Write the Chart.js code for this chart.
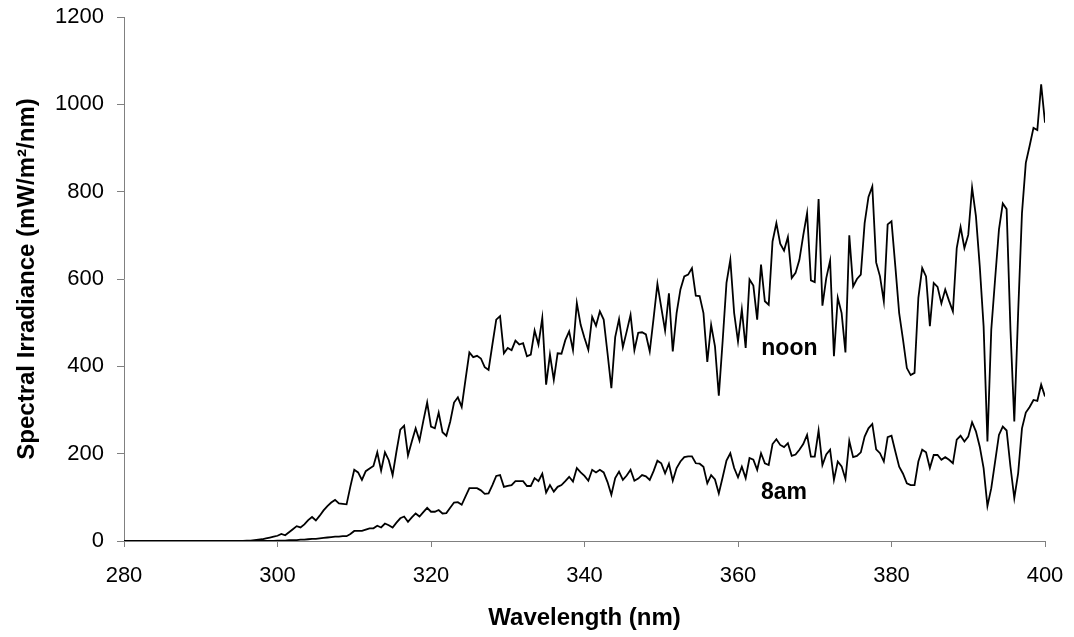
<!DOCTYPE html>
<html>
<head>
<meta charset="utf-8">
<script src="https://cdn.jsdelivr.net/npm/chart.js@4"></script>
<style>
  html, body { margin: 0; padding: 0; background: #fff; }
  #wrap { width: 1074px; height: 637px; position: relative; }
</style>
</head>
<body>
<div id="wrap"><canvas id="chart"></canvas></div>
<script>
// wavelength grid (nm)
const wavelengths = [
    280, 285, 290,
    295, 295.5, 296, 296.5, 297, 297.5, 298, 298.5, 299, 299.5,
    300, 300.5, 301, 301.5, 302, 302.5, 303, 303.5, 304, 304.5,
    305, 305.5, 306, 306.5, 307, 307.5, 308, 308.5, 309, 309.5,
    310, 310.5, 311, 311.5, 312, 312.5, 313, 313.5, 314, 314.5,
    315, 315.5, 316, 316.5, 317, 317.5, 318, 318.5, 319, 319.5,
    320, 320.5, 321, 321.5, 322, 322.5, 323, 323.5, 324, 324.5,
    325, 325.5, 326, 326.5, 327, 327.5, 328, 328.5, 329, 329.5,
    330, 330.5, 331, 331.5, 332, 332.5, 333, 333.5, 334, 334.5,
    335, 335.5, 336, 336.5, 337, 337.5, 338, 338.5, 339, 339.5,
    340, 340.5, 341, 341.5, 342, 342.5, 343, 343.5, 344, 344.5,
    345, 345.5, 346, 346.5, 347, 347.5, 348, 348.5, 349, 349.5,
    350, 350.5, 351, 351.5, 352, 352.5, 353, 353.5, 354, 354.5,
    355, 355.5, 356, 356.5, 357, 357.5, 358, 358.5, 359, 359.5,
    360, 360.5, 361, 361.5, 362, 362.5, 363, 363.5, 364, 364.5,
    365, 365.5, 366, 366.5, 367, 367.5, 368, 368.5, 369, 369.5,
    370, 370.5, 371, 371.5, 372, 372.5, 373, 373.5, 374, 374.5,
    375, 375.5, 376, 376.5, 377, 377.5, 378, 378.5, 379, 379.5,
    380, 380.5, 381, 381.5, 382, 382.5, 383, 383.5, 384, 384.5,
    385, 385.5, 386, 386.5, 387, 387.5, 388, 388.5, 389, 389.5,
    390, 390.5, 391, 391.5, 392, 392.5, 393, 393.5, 394, 394.5,
    395, 395.5, 396, 396.5, 397, 397.5, 398, 398.5, 399, 399.5,
    400
];

// spectral irradiance at noon (mW/m2/nm)
const noon = [
    0, 0, 0,
    0, 0, 1, 1, 2, 3, 4, 6, 8, 10,
    12, 16, 13, 20, 27, 34, 31, 38, 48, 55,
    47, 58, 70, 80, 88, 94, 86, 85, 84, 125,
    163, 157, 140, 160, 166, 172, 203, 161, 203, 185,
    151, 205, 255, 264, 196, 228, 258, 230, 275, 317,
    262, 258, 294, 249, 241, 273, 317, 329, 307, 370,
    432, 421, 424, 418, 398, 392, 450, 507, 515, 430,
    442, 437, 459, 450, 453, 423, 427, 482, 450, 511,
    358, 427, 369, 430, 429, 460, 480, 437, 545, 495,
    465, 438, 513, 493, 526, 507, 430, 350, 467, 508,
    444, 480, 518, 437, 477, 478, 473, 434, 510, 589,
    535, 482, 567, 434, 522, 576, 606, 610, 625, 562,
    561, 522, 410, 495, 446, 333, 458, 591, 644, 522,
    457, 530, 442, 599, 585, 507, 633, 549, 541, 686,
    728, 681, 665, 696, 602, 614, 644, 700, 751, 597,
    593, 783, 539, 602, 642, 423, 557, 522, 432, 700,
    583, 600, 610, 728, 788, 812, 638, 606, 549, 725,
    732, 629, 522, 461, 396, 380, 385, 557, 625, 606,
    492, 591, 582, 544, 576, 550, 526, 671, 719, 671,
    701, 809, 744, 629, 492, 228, 484, 600, 713, 773,
    760, 484, 274, 522, 751, 866, 905, 946, 941, 1046,
    958
];

// spectral irradiance at 8am (mW/m2/nm)
const am8 = [
    0, 0, 0,
    0, 0, 0, 0, 0, 0, 0, 0, 0, 0,
    1, 1, 1, 2, 2, 2, 3, 3, 4, 5,
    5, 6, 7, 8, 9, 10, 10, 11, 11, 16,
    23, 23, 23, 26, 29, 29, 35, 31, 40, 36,
    31, 42, 52, 56, 44, 54, 63, 56, 66, 76,
    67, 67, 71, 63, 64, 76, 88, 89, 83, 102,
    121, 121, 121, 116, 108, 109, 128, 149, 151, 124,
    126, 128, 137, 137, 137, 126, 126, 144, 137, 154,
    111, 128, 113, 124, 128, 137, 147, 136, 167, 157,
    149, 138, 163, 157, 163, 157, 135, 106, 144, 159,
    140, 150, 163, 138, 143, 151, 148, 140, 160, 184,
    178, 155, 177, 138, 167, 182, 192, 194, 194, 178,
    177, 170, 132, 151, 141, 109, 146, 184, 201, 167,
    146, 170, 144, 190, 186, 163, 201, 178, 174, 222,
    233, 220, 215, 224, 195, 198, 209, 222, 243, 193,
    193, 253, 174, 198, 209, 140, 182, 171, 142, 229,
    192, 195, 203, 239, 258, 268, 210, 201, 182, 238,
    241, 205, 170, 154, 132, 128, 128, 182, 209, 203,
    167, 197, 197, 186, 192, 186, 178, 232, 241, 228,
    239, 272, 251, 216, 167, 80, 121, 182, 243, 262,
    253, 170, 98, 155, 258, 294, 307, 323, 321, 358,
    331
];

const xTicks = [280, 300, 320, 340, 360, 380, 400];
const yTicks = [0, 200, 400, 600, 800, 1000, 1200];

// series labels placed in data units
const seriesLabels = [
    { text: 'noon', x: 366.7, y: 440 },
    { text: '8am', x: 366.0, y: 111 }
];

const FONT = "'Liberation Sans', Arial, Helvetica, sans-serif";
const AXIS_GRAY = '#808080';

const toPoints = (vals) => wavelengths.map((w, i) => ({ x: w, y: vals[i] }));

const seriesLabelPlugin = {
    id: 'seriesLabels',
    afterDatasetsDraw(chart) {
        const { ctx, scales } = chart;
        ctx.save();
        ctx.font = `bold 23px ${FONT}`;
        ctx.fillStyle = '#000';
        ctx.textAlign = 'center';
        ctx.textBaseline = 'middle';
        seriesLabels.forEach(l => {
            ctx.fillText(l.text, scales.x.getPixelForValue(l.x), scales.y.getPixelForValue(l.y));
        });
        ctx.restore();
    }
};

const noPadding = (s) => { s.paddingTop = 0; s.paddingBottom = 0; s.paddingLeft = 0; s.paddingRight = 0; };

const lineStyle = {
    borderColor: '#000',
    borderWidth: 1.8,
    pointRadius: 0,
    pointHoverRadius: 0,
    tension: 0,
    fill: false
};

new Chart(document.getElementById('chart'), {
    type: 'line',
    data: {
        datasets: [
            { label: 'noon', data: toPoints(noon), ...lineStyle },
            { label: '8am', data: toPoints(am8), ...lineStyle }
        ]
    },
    options: {
        responsive: true,
        maintainAspectRatio: false,
        animation: false,
        events: [],
        layout: { padding: { top: 17, right: 29, left: 0, bottom: 0 } },
        plugins: {
            legend: { display: false },
            tooltip: { enabled: false }
        },
        scales: {
            x: {
                type: 'linear',
                min: 280,
                max: 400,
                afterBuildTicks: (s) => { s.ticks = xTicks.map(v => ({ value: v })); },
                afterFit: (s) => { s.height = 96; noPadding(s); },
                border: { display: true, color: AXIS_GRAY, width: 1 },
                grid: { display: true, drawOnChartArea: false, drawTicks: true, tickLength: 6, color: AXIS_GRAY },
                ticks: { color: '#000', padding: 16, maxRotation: 0, callback: (v) => String(v), font: { family: FONT, size: 22 } },
                title: {
                    display: true,
                    text: 'Wavelength (nm)',
                    color: '#000',
                    font: { family: FONT, size: 24, weight: 'bold' },
                    padding: { top: 0, bottom: 4 }
                }
            },
            y: {
                min: 0,
                max: 1200,
                afterBuildTicks: (s) => { s.ticks = yTicks.map(v => ({ value: v })); },
                afterFit: (s) => { s.width = 124; noPadding(s); },
                border: { display: true, color: AXIS_GRAY, width: 1 },
                grid: { display: true, drawOnChartArea: false, drawTicks: true, tickLength: 7, color: AXIS_GRAY },
                ticks: { color: '#000', padding: 13, callback: (v) => String(v), font: { family: FONT, size: 22 } },
                title: {
                    display: true,
                    text: 'Spectral Irradiance (mW/m\u00B2/nm)',
                    color: '#000',
                    font: { family: FONT, size: 24, weight: 'bold' },
                    padding: { top: 13, bottom: 0 }
                }
            }
        }
    },
    plugins: [seriesLabelPlugin]
});
</script>
</body>
</html>
